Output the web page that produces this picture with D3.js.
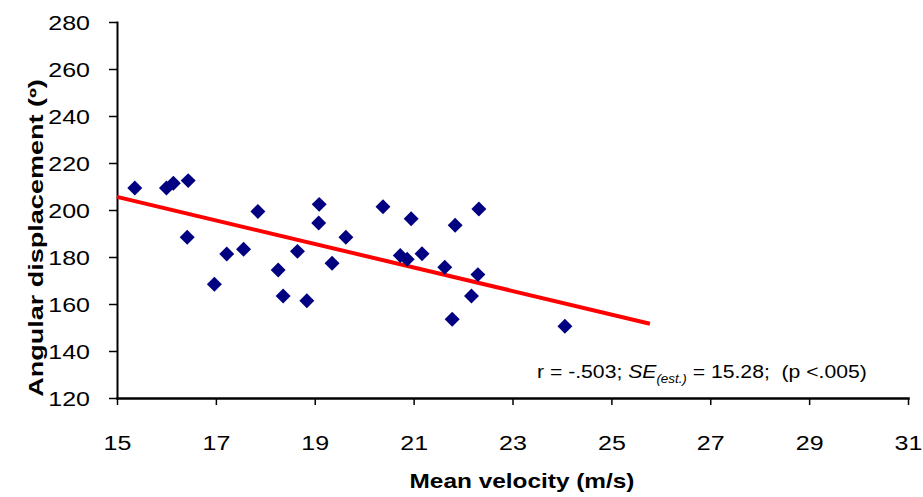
<!DOCTYPE html>
<html>
<head>
<meta charset="utf-8">
<script src="https://cdn.jsdelivr.net/npm/d3@7"></script>
<style>
  body { margin:0; background:#fff; }
  svg text { font-family: "Liberation Sans", Arial, sans-serif; fill:#000; }
</style>
</head>
<body>
<svg id="chart" width="923" height="497"></svg>
<script>
// data
var velocity = [15.36, 16.0, 16.14, 16.44, 16.42, 17.85, 19.09, 19.08, 19.63, 17.56, 17.22, 18.65, 19.35, 18.26, 16.97,
                18.36, 18.84, 20.38, 20.95, 22.32, 21.84, 20.73, 20.87, 21.17, 21.63, 22.30, 22.17, 21.78, 24.06]
var angle = [209.4, 209.4, 211.4, 212.5, 188.4, 199.4, 202.4, 194.5, 188.4, 183.3, 181.3, 182.4, 177.3, 174.5, 168.4,
             163.4, 161.4, 201.4, 196.3, 200.4, 193.5, 180.6, 179.0, 181.4, 175.6, 172.5, 163.4, 153.5, 150.5]
// regression line end points
var fitX = [15, 25.78]
var fitY = [205.6, 151.6]
var xTicks = [15, 17, 19, 21, 23, 25, 27, 29, 31]
var yTicks = [120, 140, 160, 180, 200, 220, 240, 260, 280]
var xTitle = "Mean velocity (m/s)"
var yTitle = "Angular displacement (º)"

var svg = d3.select("#chart")
var x = d3.scaleLinear().domain([15, 31]).range([117, 908])
var y = d3.scaleLinear().domain([120, 280]).range([398, 22])

// stretch text horizontally (the original font is wider than Arial)
function fit(sel, w){
    var bw = sel.node().getBBox().width
    return w / bw
}

// y axis
var gy = svg.append("g").attr("transform", "translate(" + x(15) + ",0)")
    .call(d3.axisLeft(y).tickValues(yTicks).tickSizeInner(8).tickSizeOuter(0).tickFormat(d3.format("d")))
gy.select(".domain").attr("stroke", "#000").attr("stroke-width", 2)
gy.selectAll(".tick line").attr("stroke", "#000").attr("stroke-width", 1.5)
gy.selectAll(".tick text")
  .attr("font-size", 20).attr("x", 0).attr("dy", "0.35em")
  .attr("transform", "translate(-27,0) scale(1.25,1)")

// x axis
var gx = svg.append("g").attr("transform", "translate(0," + y(120) + ")")
    .call(d3.axisBottom(x).tickValues(xTicks).tickSizeInner(7).tickSizeOuter(0).tickFormat(d3.format("d")))
gx.select(".domain").attr("stroke", "#000").attr("stroke-width", 2.5)
gx.selectAll(".tick line").attr("stroke", "#000").attr("stroke-width", 1.5)
gx.selectAll(".tick text")
  .attr("font-size", 20).attr("y", 0).attr("dy", 0)
  .attr("transform", "translate(0,52) scale(1.25,1)")
svg.selectAll(".domain").attr("stroke-linecap", "square")

// regression line
svg.append("line")
   .attr("x1", x(fitX[0])).attr("y1", y(fitY[0]))
   .attr("x2", x(fitX[1])).attr("y2", y(fitY[1]))
   .attr("stroke", "#ff0000").attr("stroke-width", 4)

// points
var diamond = d3.symbol().type(d3.symbolSquare).size(112)
svg.selectAll(".pt").data(velocity).enter().append("path")
   .attr("class", "pt")
   .attr("d", diamond)
   .attr("transform", function(d, i){ return "translate(" + x(d) + "," + y(angle[i]) + ") rotate(45)" })
   .attr("fill", "#000080")

// axis titles
var xt = svg.append("text").attr("font-size", 20).attr("font-weight", "bold")
    .attr("text-anchor", "middle").text(xTitle)
xt.attr("transform", "translate(522,488) scale(" + fit(xt, 225) + ",1)")

var yt = svg.append("text").attr("font-size", 20).attr("font-weight", "bold")
    .attr("text-anchor", "middle").text(yTitle)
yt.attr("transform", "translate(43,238) rotate(-90) scale(" + fit(yt, 318) + ",1)")

// stats note
var note = svg.append("text").attr("font-size", 19).attr("xml:space", "preserve")
note.append("tspan").text("r = -.503; ")
note.append("tspan").attr("font-style", "italic").text("SE")
note.append("tspan").attr("font-style", "italic").attr("font-size", 12).attr("dy", 5).text("(est.)")
note.append("tspan").attr("dy", -5).text(" = 15.28;  (p <.005)")
note.attr("transform", "translate(537,378) scale(" + fit(note, 330) + ",1)")
</script>
</body>
</html>
